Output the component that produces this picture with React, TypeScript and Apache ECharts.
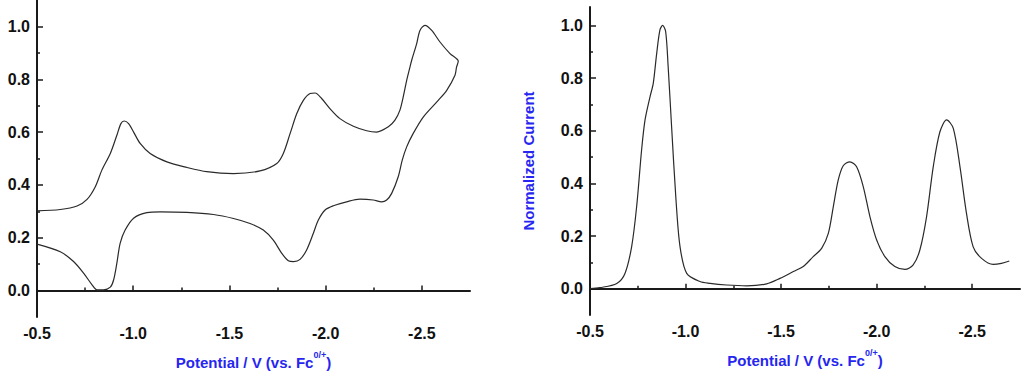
import React, { useEffect, useRef } from "react";
import * as echarts from "echarts";

// ---- Data ----
// Left: cyclic voltammogram, forward (upper) branch
const cvForwardX = [-0.5, -0.621, -0.708, -0.76, -0.803, -0.837, -0.881, -0.915, -0.936, -0.953, -0.976, -1.002, -1.036, -1.088, -1.175, -1.279, -1.382, -1.521, -1.659, -1.746, -1.78, -1.815, -1.85, -1.884, -1.919, -1.945, -1.979, -2.022, -2.074, -2.144, -2.213, -2.265, -2.326, -2.36, -2.386, -2.403, -2.421, -2.438, -2.447, -2.473, -2.49, -2.516, -2.551, -2.594, -2.646, -2.689];
const cvForwardY = [0.302, 0.307, 0.32, 0.345, 0.393, 0.456, 0.519, 0.588, 0.632, 0.642, 0.632, 0.6, 0.557, 0.519, 0.487, 0.466, 0.45, 0.443, 0.453, 0.481, 0.519, 0.594, 0.67, 0.72, 0.746, 0.748, 0.727, 0.689, 0.651, 0.622, 0.605, 0.6, 0.62, 0.645, 0.683, 0.733, 0.796, 0.846, 0.872, 0.935, 0.985, 1.004, 0.985, 0.941, 0.897, 0.868];
// Left: reverse (lower) branch
const cvReverseX = [-2.689, -2.68, -2.672, -2.629, -2.585, -2.507, -2.455, -2.421, -2.398, -2.377, -2.343, -2.317, -2.291, -2.247, -2.178, -2.109, -2.04, -1.997, -1.962, -1.936, -1.901, -1.867, -1.833, -1.806, -1.772, -1.728, -1.676, -1.607, -1.521, -1.417, -1.279, -1.14, -1.071, -1.002, -0.958, -0.932, -0.915, -0.898, -0.881, -0.846, -0.812, -0.786, -0.742, -0.69, -0.621, -0.5];
const cvReverseY = [0.868, 0.846, 0.815, 0.758, 0.72, 0.657, 0.595, 0.544, 0.494, 0.431, 0.368, 0.343, 0.336, 0.343, 0.346, 0.336, 0.321, 0.305, 0.267, 0.217, 0.154, 0.118, 0.11, 0.113, 0.141, 0.191, 0.229, 0.254, 0.273, 0.288, 0.296, 0.298, 0.295, 0.274, 0.229, 0.179, 0.104, 0.04, 0.013, 0.003, 0.003, 0.022, 0.066, 0.11, 0.147, 0.176];
// Right: differential pulse voltammogram
const dpvX = [-0.5, -0.552, -0.64, -0.683, -0.718, -0.744, -0.77, -0.788, -0.814, -0.831, -0.849, -0.866, -0.88, -0.896, -0.909, -0.927, -0.95, -0.971, -1.006, -1.075, -1.128, -1.215, -1.32, -1.424, -1.494, -1.564, -1.616, -1.668, -1.712, -1.747, -1.773, -1.799, -1.825, -1.86, -1.895, -1.93, -1.965, -2.0, -2.043, -2.095, -2.148, -2.191, -2.226, -2.261, -2.296, -2.331, -2.366, -2.401, -2.436, -2.47, -2.505, -2.549, -2.61, -2.653, -2.694];
const dpvY = [0.0, 0.004, 0.02, 0.058, 0.16, 0.311, 0.527, 0.641, 0.729, 0.78, 0.894, 0.983, 1.0, 0.976, 0.843, 0.615, 0.337, 0.16, 0.058, 0.027, 0.02, 0.014, 0.011, 0.018, 0.039, 0.065, 0.084, 0.122, 0.153, 0.21, 0.311, 0.413, 0.467, 0.482, 0.463, 0.387, 0.273, 0.185, 0.122, 0.084, 0.073, 0.09, 0.147, 0.273, 0.463, 0.596, 0.641, 0.609, 0.463, 0.286, 0.159, 0.115, 0.092, 0.096, 0.105];

// Axis ticks / labels
const xMajor = [-0.5, -1.0, -1.5, -2.0, -2.5];
const xMinor = [-0.75, -1.25, -1.75, -2.25];
const yMajor = [0, 0.2, 0.4, 0.6, 0.8, 1.0];
const yMinor = [0.1, 0.3, 0.5, 0.7, 0.9];

const xTitle = "Potential / V (vs. Fc";
const xTitleSup = "0/+";
const yTitle = "Normalized Current";

const FONT = "'Liberation Sans', Arial, sans-serif";
const BLUE = "#2626f0";
const AXIS = "#1a1a1a";

function zip(xs: number[], ys: number[]) {
  return xs.map((x, i) => [x, ys[i]]);
}

export default function App() {
  const ref = useRef<HTMLDivElement>(null);
  useEffect(() => {
    document.body.style.margin = "0";
    const chart = echarts.init(ref.current!, null, { renderer: "svg" });

    const xMain = (grid: number) => ({
      type: "value",
      gridIndex: grid,
      min: -2.75,
      max: -0.5,
      inverse: true,
      position: "bottom",
      splitLine: { show: false },
      axisLine: { show: true, lineStyle: { color: AXIS, width: 2 } },
      axisTick: { show: true, inside: true, length: 5, customValues: xMajor, lineStyle: { color: AXIS, width: 1.5 } },
      axisLabel: {
        show: true,
        customValues: xMajor,
        formatter: (v: number) => v.toFixed(1),
        fontFamily: FONT,
        fontWeight: "bold",
        fontSize: 16,
        color: "#111",
        margin: 8,
      },
      name: `{b|${xTitle}}{s|${xTitleSup}}{b|)}`,
      nameLocation: "middle",
      nameGap: 33,
      nameTextStyle: {
        rich: {
          b: { fontFamily: FONT, fontWeight: "bold", fontSize: 15, color: BLUE, lineHeight: 20, verticalAlign: "bottom" },
          s: { fontFamily: FONT, fontWeight: "bold", fontSize: 9, color: BLUE, lineHeight: 20, verticalAlign: "top" },
        },
      },
    });
    const xMinorAxis = (grid: number) => ({
      type: "value",
      gridIndex: grid,
      min: -2.75,
      max: -0.5,
      inverse: true,
      position: "bottom",
      splitLine: { show: false },
      axisLine: { show: false },
      axisLabel: { show: false },
      axisTick: { show: true, inside: true, length: 3, customValues: xMinor, lineStyle: { color: AXIS, width: 1.5 } },
    });
    const yMain = (grid: number, max: number, withName: boolean) => ({
      type: "value",
      gridIndex: grid,
      min: -0.1,
      max,
      position: "left",
      splitLine: { show: false },
      axisLine: { show: true, lineStyle: { color: AXIS, width: 2 } },
      axisTick: { show: true, inside: true, length: 6, customValues: yMajor, lineStyle: { color: AXIS, width: 1.5 } },
      axisLabel: {
        show: true,
        customValues: yMajor,
        formatter: (v: number) => v.toFixed(1),
        fontFamily: FONT,
        fontWeight: "bold",
        fontSize: 16,
        color: "#111",
        margin: 7,
      },
      name: withName ? yTitle : "",
      nameLocation: "middle",
      nameGap: 54,
      nameRotate: 90,
      nameTextStyle: { fontFamily: FONT, fontWeight: "bold", fontSize: 15, color: BLUE },
    });
    const yMinorAxis = (grid: number, max: number) => ({
      type: "value",
      gridIndex: grid,
      min: -0.1,
      max,
      position: "left",
      splitLine: { show: false },
      axisLine: { show: false },
      axisLabel: { show: false },
      axisTick: { show: true, inside: true, length: 3, customValues: yMinor, lineStyle: { color: AXIS, width: 1.5 } },
    });

    const lineStyle = { color: "#2a2a2a", width: 1.2 };

    chart.setOption({
      animation: false,
      grid: [
        { left: 37, top: 0, width: 433, height: 317 },
        { left: 590, top: 7, width: 430, height: 308 },
      ],
      xAxis: [xMain(0), xMinorAxis(0), xMain(1), xMinorAxis(1)],
      yAxis: [yMain(0, 1.1, false), yMinorAxis(0, 1.1), yMain(1, 1.07, true), yMinorAxis(1, 1.07)],
      series: [
        {
          type: "line",
          xAxisIndex: 0,
          yAxisIndex: 0,
          data: zip(cvForwardX, cvForwardY).concat(zip(cvReverseX, cvReverseY).slice(1)),
          showSymbol: false,
          smooth: 0.3,
          lineStyle,
        },
        {
          type: "line",
          xAxisIndex: 2,
          yAxisIndex: 2,
          data: zip(dpvX, dpvY),
          showSymbol: false,
          smooth: 0.3,
          lineStyle,
        },
      ],
    });
    return () => chart.dispose();
  }, []);
  return <div ref={ref} style={{ width: 1024, height: 379, position: "absolute", left: 0, top: 0 }} />;
}
